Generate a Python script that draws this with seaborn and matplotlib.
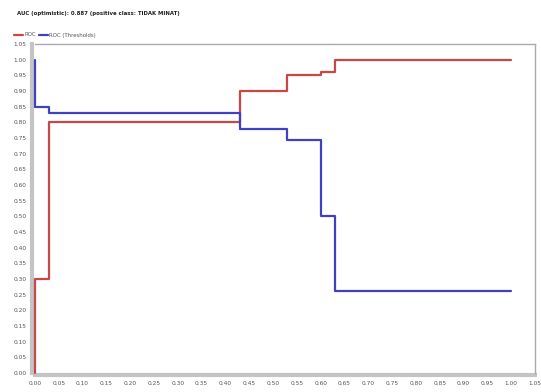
import matplotlib
matplotlib.use("Agg")
import matplotlib.pyplot as plt
from matplotlib.lines import Line2D
import numpy as np
import pandas as pd
import seaborn as sns

# ROC curve vertices (false positive rate, true positive rate)
roc_fpr = [0.00, 0.00, 0.03, 0.03, 0.43, 0.43, 0.53, 0.53, 0.60, 0.60, 0.63, 0.63, 1.00]
roc_tpr = [0.00, 0.30, 0.30, 0.80, 0.80, 0.90, 0.90, 0.95, 0.95, 0.96, 0.96, 1.00, 1.00]

# Threshold curve vertices
thr_fpr = [0.00, 0.00, 0.03, 0.03, 0.43, 0.43, 0.53, 0.53, 0.60, 0.60, 0.63, 0.63, 1.00]
thr_val = [1.00, 0.85, 0.85, 0.83, 0.83, 0.78, 0.78, 0.745, 0.745, 0.50, 0.50, 0.262, 0.262]

x_ticks = np.round(np.arange(0, 1.0501, 0.05), 2)
y_ticks = np.round(np.arange(0, 1.0501, 0.05), 2)

title = "AUC (optimistic): 0.887 (positive class: TIDAK MINAT)"

sns.set_style("white")
plt.rcParams["font.family"] = ["DejaVu Sans"]

roc_df = pd.DataFrame({"fpr": roc_fpr, "value": roc_tpr, "curve": "ROC"})
thr_df = pd.DataFrame({"fpr": thr_fpr, "value": thr_val, "curve": "ROC (Thresholds)"})

fig = plt.figure(figsize=(5.41, 3.92), dpi=100)
ax = fig.add_axes([35 / 541, 1 - 373 / 392, 500 / 541, 329 / 392])

# Axis frame: heavy light-grey left/bottom bars, thin grey top/right
for side in ("top", "right"):
    ax.spines[side].set_color("#aaaaaa")
    ax.spines[side].set_linewidth(1.0)
for side in ("left", "bottom"):
    ax.spines[side].set_color("#c4c4c4")
    ax.spines[side].set_linewidth(3.0)
    ax.spines[side].set_zorder(1)
ax.spines["left"].set_position(("outward", 2))
ax.spines["bottom"].set_position(("outward", 1.5))

palette = {"ROC": "#c84848", "ROC (Thresholds)": "#4040c0"}
for df in (roc_df, thr_df):
    sns.lineplot(data=df, x="fpr", y="value", hue="curve", palette=palette,
                 sort=False, estimator=None, lw=1.6, ax=ax, legend=False,
                 clip_on=False, zorder=4)

ax.set_xlim(0, 1.05)
ax.set_ylim(0, 1.05)
ax.set_xticks(x_ticks)
ax.set_yticks(y_ticks)
ax.set_xticklabels([f"{v:.2f}" for v in x_ticks], fontsize=4.2, color="#555555")
ax.set_yticklabels([f"{v:.2f}" for v in y_ticks], fontsize=4.2, color="#555555")
ax.tick_params(axis="both", length=2, width=0.6, color="#888888", pad=2,
               direction="out")
ax.set_xlabel("")
ax.set_ylabel("")

fig.text(17 / 541, 1 - 14 / 392, title, fontsize=3.9, fontweight="bold",
         color="#222222", va="center", ha="left")

# Legend row above the plot
handles = [Line2D([], [], color=palette["ROC"], lw=1.6),
           Line2D([], [], color=palette["ROC (Thresholds)"], lw=1.6)]
fig.legend(handles, ["ROC", "ROC (Thresholds)"], loc="center left",
           bbox_to_anchor=(9 / 541, 1 - 35 / 392), ncol=2, frameon=False,
           fontsize=3.9, handlelength=1.6, handletextpad=0.3, columnspacing=0.6,
           labelcolor="#555555")

fig.savefig("out.png", dpi=100)
